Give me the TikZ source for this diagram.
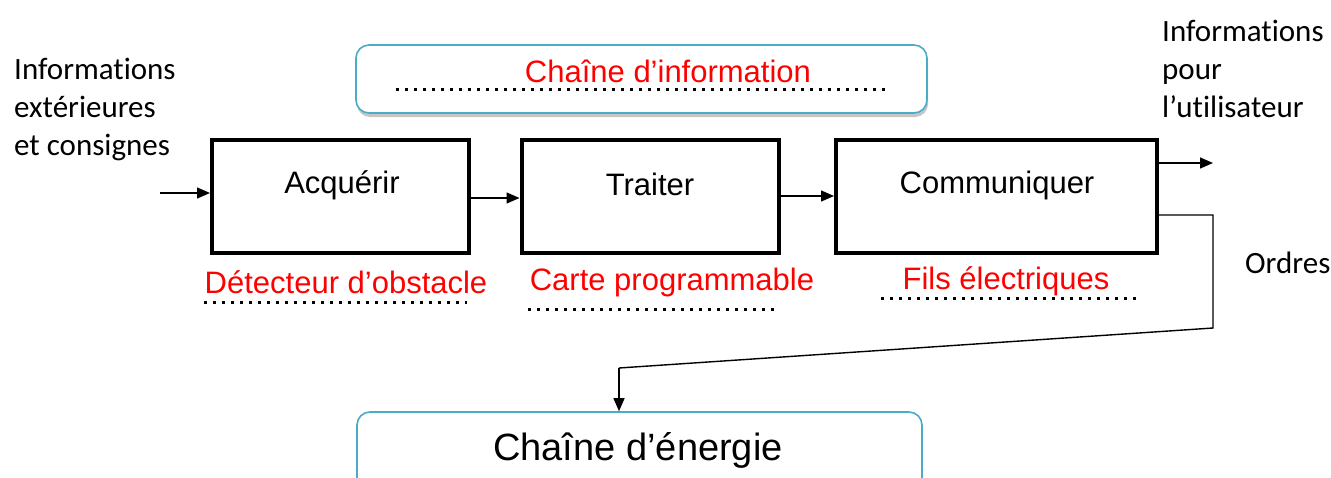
\documentclass[tikz,border=0pt]{standalone}
\usepackage{fontspec}
\setmainfont{Liberation Sans}
\newfontfamily\calfont[Ligatures=NoCommon]{Carlito}
\usetikzlibrary{arrows.meta,shadows}
\definecolor{chainblue}{RGB}{75,172,198}
\definecolor{redtxt}{RGB}{255,0,0}
\begin{document}
\begin{tikzpicture}[x=1pt,y=-1pt,
  blk/.style={draw=black,line width=4pt,minimum width=257pt,minimum height=113pt,inner sep=0pt},
  chain/.style={draw=chainblue,line width=1.6pt,rounded corners=13pt,fill=white,inner sep=0pt},
  lbl/.style={font=\fontsize{31}{36}\selectfont,inner sep=0pt,anchor=base},
  redlbl/.style={font=\fontsize{31}{36}\selectfont,text=redtxt,inner sep=0pt,anchor=base},
  side/.style={font=\calfont\fontsize{31}{38}\selectfont,align=left,inner sep=0pt},
  arr/.style={line width=1.4pt,-{Triangle[length=13pt,width=11pt]}},
  wire/.style={line width=1.4pt},
  dots/.style={line width=3pt,dash pattern=on 3pt off 6pt}
]
\useasboundingbox (0,0) rectangle (1331,477);
\clip (0,0) rectangle (1331,477);
% top chain box
\node[chain,minimum width=571pt,minimum height=68pt,
  drop shadow={shadow xshift=1pt,shadow yshift=-4pt,opacity=.45,fill=gray}] (info) at (641.5,79) {};
\node[redlbl] (infot) at (668,82) {Chaîne d’information};
\coordinate (d1a) at (396,89); \coordinate (d1b) at (888,89);
\draw[dots] (d1a) -- (d1b);
% blocks
\node[blk] (acq) at (340.5,196.5) {};
\node[blk] (tra) at (650,196.5) {};
\node[blk,minimum width=321pt] (com) at (996.5,196.5) {};
\node[lbl] (acqt) at (342,193) {Acquérir};
\node[lbl] (trat) at (650,195) {Traiter};
\node[lbl] (comt) at (997,193) {Communiquer};
% red labels
\node[redlbl] (r1) at (346,293) {Détecteur d’obstacle};
\node[redlbl] (r2) at (672,290) {Carte programmable};
\node[redlbl] (r3) at (1006,289) {Fils électriques};
\coordinate (d2a) at (204,302); \coordinate (d2b) at (467,302);
\coordinate (d3a) at (528,309); \coordinate (d3b) at (778,309);
\coordinate (d4a) at (881,298); \coordinate (d4b) at (1138,298);
\draw[dots] (d2a) -- (d2b);
\draw[dots] (d3a) -- (d3b);
\draw[dots] (d4a) -- (d4b);
% side texts
\node[side,anchor=north west] (lin) at (14,58) {Informations\\extérieures\\et consignes};
\node[side,anchor=north west] (rout) at (1162,20) {Informations\\pour\\l’utilisateur};
\node[side,anchor=west] (ord) at (1245,263) {Ordres};
% connectors
\coordinate (inS) at (160,193);
\draw[arr] (inS) -- (inS -| acq.west);
\draw[arr] (acq.east |- 0,198) -- (tra.west |- 0,198);
\draw[arr] (tra.east |- 0,196) -- (com.west |- 0,196);
\coordinate (outE) at (1213,163);
\draw[arr] (com.east |- outE) -- (outE);
% bottom chain box
\node[chain,minimum width=565pt,minimum height=100pt] (ener) at (639.5,462) {};
\node[font=\fontsize{38}{44}\selectfont,inner sep=0pt,anchor=base] (enert) at (638,460) {Chaîne d’énergie};
\coordinate (o1) at (1213,215);
\coordinate (o2) at (1213,328);
\coordinate (o3) at (619,368);
\draw[wire] (com.east |- o1) -- (o1) -- (o2) -- (o3);
\draw[arr] (o3) -- (o3 |- ener.north);
\end{tikzpicture}
\end{document}
